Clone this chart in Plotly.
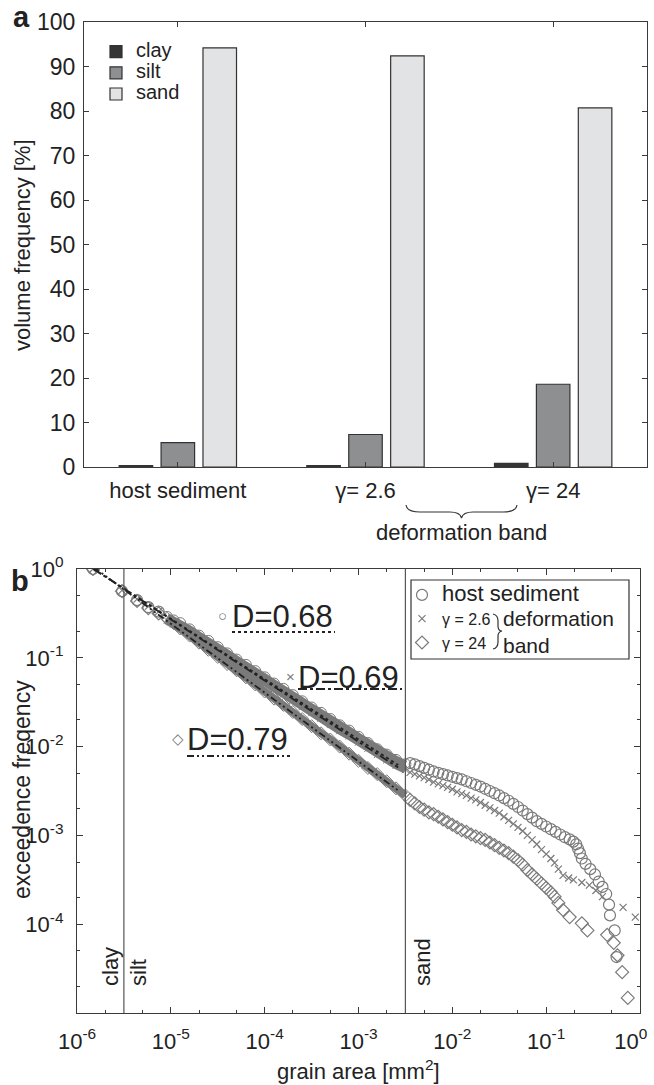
import numpy as np
import plotly.graph_objects as go

W, H = 654, 1085

# ---------------- panel a data ----------------
groups = ["host sediment", "γ= 2.6", "γ= 24"]
group_pos = [1, 2, 3]
clay = [0.3, 0.3, 0.8]
silt = [5.5, 7.3, 18.6]
sand = [94.2, 92.4, 80.7]

# ---------------- panel b data (log10 values) ----------------
# dense part of each curve (overlapping markers form a band)
band_lx = [-5.04, -4.97, -4.9, -4.8, -4.7, -4.6, -4.5, -4.4, -4.3, -4.2, -4.1, -4.0, -3.9,
           -3.8, -3.7, -3.6, -3.5, -3.4, -3.3, -3.2, -3.1, -3.0, -2.9, -2.8, -2.7, -2.6, -2.5]
host_band_ly = [-0.54, -0.58, -0.61, -0.68, -0.75, -0.81, -0.88, -0.95, -1.02, -1.08, -1.15,
                -1.22, -1.29, -1.35, -1.42, -1.49, -1.56, -1.62, -1.69, -1.76, -1.82, -1.89,
                -1.96, -2.03, -2.09, -2.15, -2.20]
g26_band_ly = [-0.58, -0.62, -0.66, -0.73, -0.80, -0.86, -0.93, -1.00, -1.07, -1.14, -1.21,
               -1.28, -1.35, -1.41, -1.48, -1.55, -1.62, -1.68, -1.75, -1.82, -1.88, -1.95,
               -2.02, -2.09, -2.15, -2.21, -2.26]
g24_band_ly = [-0.56, -0.61, -0.67, -0.75, -0.83, -0.91, -0.99, -1.07, -1.14, -1.22, -1.30,
               -1.38, -1.46, -1.53, -1.61, -1.69, -1.77, -1.85, -1.92, -2.00, -2.08, -2.16,
               -2.24, -2.31, -2.39, -2.47, -2.55]

# separate markers (smallest grains and coarse tail)
host_pts_lx = [-5.83, -5.52, -5.36, -5.24, -5.13,
               -2.45, -2.40, -2.35, -2.30, -2.25, -2.20, -2.15, -2.10, -2.05, -2.00, -1.95,
               -1.90, -1.85, -1.80, -1.75, -1.70, -1.65, -1.60, -1.55, -1.50, -1.45, -1.40,
               -1.35, -1.30, -1.25, -1.20, -1.15, -1.10, -1.05, -1.00, -0.95, -0.90, -0.85,
               -0.80, -0.75, -0.71, -0.68, -0.66, -0.64, -0.62, -0.58, -0.53, -0.48, -0.44,
               -0.40, -0.36, -0.33, -0.32, -0.27, -0.25]
host_pts_ly = [0.0, -0.25, -0.35, -0.43, -0.48,
               -2.185, -2.20, -2.22, -2.24, -2.26, -2.28, -2.295, -2.31, -2.325, -2.34, -2.355,
               -2.37, -2.39, -2.41, -2.43, -2.45, -2.475, -2.50, -2.525, -2.55, -2.58, -2.61,
               -2.645, -2.68, -2.72, -2.76, -2.80, -2.84, -2.87, -2.90, -2.93, -2.96, -2.99,
               -3.02, -3.045, -3.07, -3.10, -3.15, -3.20, -3.26, -3.32, -3.38, -3.44, -3.52,
               -3.58, -3.66, -3.78, -3.90, -4.07, -4.37]

g26_pts_lx = [-5.83, -5.52, -5.36, -5.24, -5.13,
              -2.45, -2.40, -2.35, -2.30, -2.25, -2.20, -2.15, -2.10, -2.05, -2.00, -1.95,
              -1.90, -1.85, -1.80, -1.75, -1.70, -1.65, -1.60, -1.55, -1.50, -1.45, -1.40,
              -1.35, -1.30, -1.25, -1.20, -1.15, -1.10, -1.05, -1.00, -0.95, -0.91, -0.87,
              -0.82, -0.76, -0.71, -0.62, -0.54, -0.47, -0.40, -0.18, -0.05]
g26_pts_ly = [0.0, -0.24, -0.34, -0.42, -0.48,
              -2.29, -2.31, -2.33, -2.35, -2.37, -2.40, -2.42, -2.44, -2.46, -2.48, -2.51,
              -2.53, -2.55, -2.58, -2.60, -2.63, -2.66, -2.69, -2.72, -2.75, -2.79, -2.83,
              -2.87, -2.91, -2.95, -3.00, -3.05, -3.10, -3.16, -3.21, -3.26, -3.31, -3.38,
              -3.45, -3.48, -3.50, -3.53, -3.56, -3.62, -3.69, -3.81, -3.92]

g24_pts_lx = [-5.83, -5.52, -5.36, -5.24, -5.13,
              -2.45, -2.40, -2.35, -2.30, -2.25, -2.20, -2.15, -2.10, -2.05, -2.00, -1.95,
              -1.90, -1.85, -1.80, -1.75, -1.70, -1.65, -1.60, -1.55, -1.50, -1.45, -1.40,
              -1.35, -1.30, -1.25, -1.20, -1.15, -1.10, -1.05, -1.00, -0.95, -0.91, -0.87,
              -0.82, -0.75, -0.62, -0.56, -0.35, -0.28, -0.24, -0.19, -0.13]
g24_pts_ly = [0.0, -0.25, -0.36, -0.44, -0.50,
              -2.60, -2.64, -2.68, -2.71, -2.74, -2.76, -2.79, -2.82, -2.85, -2.88, -2.91,
              -2.94, -2.96, -2.99, -3.01, -3.03, -3.05, -3.08, -3.11, -3.14, -3.17, -3.20,
              -3.24, -3.28, -3.33, -3.39, -3.44, -3.49, -3.54, -3.59, -3.64, -3.69, -3.76,
              -3.84, -3.92, -3.99, -4.07, -4.12, -4.21, -4.35, -4.54, -4.83]

# power-law fits (end points)
fit_area = [1.5e-6, 2.65e-3]
fit_host = [1.0, 6.2e-3]
fit_g26 = [1.0, 5.8e-3]
fit_g24 = [1.05, 3.2e-3]

# clay/silt and silt/sand boundaries [mm^2]
size_limits = [3.16e-6, 3.16e-3]

x_tick_vals = [1e-6, 1e-5, 1e-4, 1e-3, 1e-2, 1e-1, 1e0]
x_tick_text = ["10<sup>-6</sup>", "10<sup>-5</sup>", "10<sup>-4</sup>", "10<sup>-3</sup>",
               "10<sup>-2</sup>", "10<sup>-1</sup>", "10<sup>0</sup>\u00a0\u00a0\u00a0"]
y_tick_vals = [1e0, 1e-1, 1e-2, 1e-3, 1e-4]
y_tick_text = ["10<sup>0</sup>", "10<sup>-1</sup>", "10<sup>-2</sup>", "10<sup>-3</sup>", "10<sup>-4</sup>"]


def px(x):
    return x / W


def py(y):
    return 1 - y / H


def p10(a):
    return (10.0 ** np.array(a)).tolist()


FONT = "Liberation Sans, Arial, Helvetica, sans-serif"
AX = "#3a3a3a"
GRAY = "#7a7a7a"

fig = go.Figure()

# ---------------- panel a ----------------
for name, vals, col in [("clay", clay, "#353535"), ("silt", silt, "#8e8f91"), ("sand", sand, "#e2e3e4")]:
    fig.add_trace(go.Bar(x=group_pos, y=vals, name="<span style='font-size:20px'>" + name + "</span>",
                         xaxis="x", yaxis="y",
                         marker=dict(color=col, line=dict(color="#333333", width=1.2)),
                         legend="legend"))

# ---------------- panel b ----------------
series = [
    ("<span style='font-size:22px'>host sediment</span>", host_band_ly, host_pts_lx, host_pts_ly, "circle-open", 11),
    ("<span style='font-size:16px'>γ = 2.6</span>", g26_band_ly, g26_pts_lx, g26_pts_ly, "x-thin-open", 7),
    ("<span style='font-size:16px'>γ = 24</span>", g24_band_ly, g24_pts_lx, g24_pts_ly, "diamond-open", 10),
]
for i, (name, bly, plx, ply, sym, sz) in enumerate(series):
    fig.add_trace(go.Scatter(x=p10(band_lx), y=p10(bly), mode="lines+markers", xaxis="x2", yaxis="y2",
                             line=dict(color=GRAY, width=8),
                             marker=dict(symbol=sym, size=sz, color=GRAY, line=dict(color=GRAY, width=1)),
                             showlegend=False, legendgroup=str(i)))
for i, (name, bly, plx, ply, sym, sz) in enumerate(series):
    fig.add_trace(go.Scatter(x=p10(plx), y=p10(ply), mode="markers", xaxis="x2", yaxis="y2", name=name,
                             marker=dict(symbol=sym, size=sz, color=GRAY, line=dict(color=GRAY, width=1.2)),
                             legend="legend2", legendgroup=str(i)))

for fy, dash in [(fit_host, "dot"), (fit_g26, "dashdot"), (fit_g24, "7px,3px,2px,3px,2px,3px")]:
    fig.add_trace(go.Scatter(x=fit_area, y=fy, mode="lines", xaxis="x2", yaxis="y2", showlegend=False,
                             line=dict(color="#222222", width=1.8, dash=dash)))

shapes = []
for xl in size_limits:
    shapes.append(dict(type="line", xref="x2", yref="y2 domain", x0=xl, x1=xl, y0=0, y1=1,
                       line=dict(color="#555555", width=1.2)))


def P(x, y):
    return f"{px(x):.5f},{py(y):.5f}"


# brace under panel a
brace_a = ("M " + P(406, 505) + " Q " + P(407, 512) + " " + P(420, 512) + " L " + P(450, 512) +
           " Q " + P(460, 512) + " " + P(461.5, 518) + " Q " + P(463, 512) + " " + P(473, 512) +
           " L " + P(503, 512) + " Q " + P(516, 512) + " " + P(517, 505))
shapes.append(dict(type="path", xref="paper", yref="paper", path=brace_a,
                   line=dict(color="#333333", width=1.2)))
# brace in legend of panel b
brace_b = ("M " + P(493, 614) + " Q " + P(498, 615) + " " + P(498, 621) + " L " + P(498, 626) +
           " Q " + P(498, 631) + " " + P(502, 631) + " Q " + P(498, 632) + " " + P(498, 636) +
           " L " + P(498, 642) + " Q " + P(498, 648) + " " + P(493, 649))
shapes.append(dict(type="path", xref="paper", yref="paper", path=brace_b,
                   line=dict(color="#333333", width=1.2)))
# legend box for panel b
shapes.append(dict(type="rect", xref="paper", yref="paper", x0=px(411), x1=px(629), y0=py(659), y1=py(580),
                   line=dict(color="#333333", width=1.2), fillcolor="rgba(255,255,255,0)"))
# underlines of D labels
for x0, x1, yy, dash in [(232, 335, 632, "dot"), (298, 402, 689, "dashdot"),
                         (187, 290, 756, "7px,3px,2px,3px,2px,3px")]:
    shapes.append(dict(type="line", xref="paper", yref="paper", x0=px(x0), x1=px(x1), y0=py(yy), y1=py(yy),
                       line=dict(color="#222222", width=2, dash=dash)))

ann = []


def A(text, x, y, size, xanchor="center", yanchor="middle", angle=0, color="#222222", bold=False,
      align="center"):
    if bold:
        text = "<b>" + text + "</b>"
    ann.append(dict(text=text, x=px(x), y=py(y), xref="paper", yref="paper", showarrow=False,
                    xanchor=xanchor, yanchor=yanchor, textangle=angle, align=align,
                    font=dict(size=size, color=color, family=FONT)))


A("a", 22, 17, 29, bold=True)
A("b", 20, 581, 29, bold=True)
A("volume frequency [%]", 22, 245, 22, angle=-90)
A("deformation band", 461.5, 533, 22)
A("exceedence freqency", 22, 790, 23, angle=-90)
A("grain area [mm<sup>2</sup>]", 358, 1070, 22)
A("clay", 110, 967, 22, angle=-90)
A("silt", 138, 973, 22, angle=-90)
A("sand", 422, 962, 22, angle=-90)
A("D=0.68", 230, 616, 31, xanchor="left")
A("D=0.69", 296, 677, 31, xanchor="left")
A("D=0.79", 185, 739, 31, xanchor="left")
A("○", 222, 615, 15, color=GRAY)
A("×", 290, 676, 15, color=GRAY)
A("◇", 178, 738, 15, color=GRAY)
A("deformation<br>band", 501, 632, 21, xanchor="left", align="left")

common = dict(showline=True, linecolor=AX, linewidth=1.3, mirror="allticks", ticks="inside",
              tickcolor=AX, showgrid=False, zeroline=False, automargin=False, ticklabeloverflow="allow")

fig.update_layout(
    width=W, height=H, autosize=False,
    margin=dict(l=0, r=0, t=0, b=0, pad=0),
    paper_bgcolor="white", plot_bgcolor="white",
    font=dict(family=FONT, color="#222222", size=20),
    barmode="group", bargap=0.33, bargroupgap=0.2,
    xaxis=dict(domain=[px(84), px(647)], range=[0.5, 3.5], tickvals=group_pos, ticktext=groups,
               ticklen=5, tickfont=dict(size=22), ticklabelstandoff=3, anchor="y", **common),
    yaxis=dict(domain=[py(467), py(22)], range=[0, 100], dtick=10, ticklen=5,
               tickfont=dict(size=23), ticklabelstandoff=3, anchor="x", **common),
    xaxis2=dict(domain=[px(77), px(640)], type="log", range=[-6, 0], tickvals=x_tick_vals,
                ticktext=x_tick_text, ticklen=6, tickfont=dict(size=22), ticklabelstandoff=8, anchor="y2",
                minor=dict(ticks="inside", ticklen=3, tickcolor=AX, showgrid=False), **common),
    yaxis2=dict(domain=[py(1013), py(569)], type="log", range=[-5, 0], tickvals=y_tick_vals,
                ticktext=y_tick_text, ticklen=6, tickfont=dict(size=22), ticklabelstandoff=8, anchor="x2",
                minor=dict(ticks="inside", ticklen=3, tickcolor=AX, showgrid=False), **common),
    legend=dict(x=px(96), y=py(36), xanchor="left", yanchor="top", font=dict(size=14),
                bgcolor="rgba(0,0,0,0)", borderwidth=0, tracegroupgap=0, itemwidth=30),
    legend2=dict(x=px(402), y=py(578), xanchor="left", yanchor="top", font=dict(size=16),
                 bgcolor="rgba(0,0,0,0)", borderwidth=0, tracegroupgap=0, itemwidth=30),
    shapes=shapes, annotations=ann,
)

fig.write_html("out.html")
